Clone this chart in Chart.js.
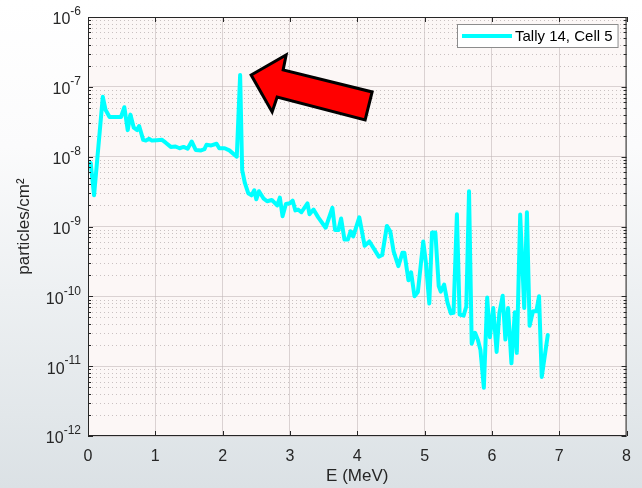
<!DOCTYPE html>
<html>
<head>
<meta charset="utf-8">
<script src="https://cdn.jsdelivr.net/npm/chart.js@4.4.0/dist/chart.umd.min.js"></script>
<style>
  html, body { margin: 0; padding: 0; }
  body {
    width: 642px; height: 488px; overflow: hidden;
    background: linear-gradient(to bottom, #ffffff 0%, #fbfbfc 30%, #edf0f2 60%, #e2e7ea 85%, #dbe1e5 100%);
  }
  #wrap { position: relative; width: 642px; height: 488px; }
</style>
</head>
<body>
<div id="wrap"><canvas id="spectrum"></canvas></div>
<script>
// Data
const energies = [0.04, 0.09, 0.22, 0.26, 0.32, 0.44, 0.49, 0.54, 0.59, 0.63, 0.68, 0.73, 0.76, 0.82, 0.86, 0.91, 0.95, 1.02, 1.10, 1.15,
  1.23, 1.30, 1.36, 1.42, 1.48, 1.54, 1.60, 1.68, 1.73, 1.76, 1.83, 1.91, 1.95, 2.03, 2.10, 2.21, 2.26, 2.29, 2.33, 2.38,
  2.43, 2.47, 2.50, 2.54, 2.61, 2.66, 2.73, 2.81, 2.85, 2.89, 2.94, 3.00, 3.04, 3.08, 3.12, 3.17, 3.26, 3.29, 3.35, 3.42,
  3.53, 3.63, 3.67, 3.72, 3.76, 3.81, 3.86, 3.90, 3.94, 4.03, 4.11, 4.18, 4.32, 4.37, 4.44, 4.49, 4.54, 4.61, 4.67, 4.70,
  4.76, 4.80, 4.85, 4.90, 4.98, 5.02, 5.07, 5.11, 5.16, 5.21, 5.24, 5.29, 5.34, 5.39, 5.43, 5.48, 5.52, 5.58, 5.62, 5.66,
  5.70, 5.75, 5.79, 5.83, 5.88, 5.93, 5.97, 6.02, 6.07, 6.11, 6.16, 6.20, 6.24, 6.29, 6.34, 6.37, 6.42, 6.48, 6.52, 6.56,
  6.61, 6.66, 6.70, 6.74, 6.83];
const flux = [8.1e-9, 2.8e-9, 7.2e-8, 4.7e-8, 3.7e-8, 3.7e-8, 3.7e-8, 5.1e-8, 2.4e-8, 4.0e-8, 2.6e-8, 2.4e-8, 2.75e-8, 1.74e-8, 1.7e-8, 1.8e-8, 1.7e-8, 1.72e-8, 1.74e-8, 1.6e-8,
  1.38e-8, 1.4e-8, 1.32e-8, 1.38e-8, 1.3e-8, 1.65e-8, 1.25e-8, 1.23e-8, 1.28e-8, 1.48e-8, 1.45e-8, 1.53e-8, 1.32e-8, 1.32e-8, 1.23e-8, 1.0e-8, 1.48e-7, 6.4e-9, 4.2e-9, 3.0e-9,
  2.8e-9, 3.3e-9, 2.45e-9, 3.2e-9, 2.5e-9, 2.3e-9, 2.4e-9, 2.0e-9, 2.6e-9, 1.4e-9, 2.1e-9, 2.15e-9, 2.35e-9, 1.7e-9, 1.75e-9, 1.6e-9, 2.15e-9, 1.5e-9, 1.75e-9, 1.35e-9,
  9.6e-10, 1.85e-9, 8.9e-10, 8.9e-10, 1.3e-9, 6.5e-10, 6.5e-10, 8.5e-10, 7.2e-10, 1.35e-9, 5.3e-10, 6.1e-10, 3.7e-10, 3.9e-10, 1.02e-9, 8.5e-10, 4.4e-10, 2.7e-10, 4.2e-10, 4.2e-10,
  1.7e-10, 2.2e-10, 1.0e-10, 1.15e-10, 6.1e-10, 3.0e-10, 7.9e-11, 8.2e-10, 8.2e-10, 1.4e-10, 1.17e-10, 1.47e-10, 8.1e-11, 5.7e-11, 5.8e-11, 1.5e-9, 5.5e-11, 5.3e-11, 7.2e-11, 3.2e-9,
  2.1e-11, 3.0e-11, 2.4e-11, 1.7e-11, 4.9e-12, 9.6e-11, 2.6e-11, 6.8e-11, 1.6e-11, 5.7e-11, 1.02e-10, 2.4e-11, 6.8e-11, 1.1e-11, 5.9e-11, 1.55e-11, 1.48e-9, 6.8e-11, 1.6e-9, 3.8e-11,
  6.1e-11, 6.1e-11, 1.0e-10, 7.0e-12, 2.8e-11];

const xTicks = [0, 1, 2, 3, 4, 5, 6, 7, 8];
const yExponents = [-12, -11, -10, -9, -8, -7, -6];
const seriesLabel = 'Tally 14, Cell 5';
const xTitle = 'E (MeV)';
const yTitle = 'particles/cm\u00b2';

const textColor = '#262626';
const fontFamily = "'Liberation Sans', Arial, sans-serif";

// index of the spike the arrow points at
const peakIndex = flux.indexOf(Math.max(...flux));

const isDecade = v => Math.abs(Math.log10(v) - Math.round(Math.log10(v))) < 1e-6;

const matlabAxes = {
  id: 'matlabAxes',
  beforeDraw(chart) {
    const { ctx, chartArea: { left, top, width, height } } = chart;
    ctx.save();
    ctx.fillStyle = '#fcf7f6';
    ctx.fillRect(left, top, width, height);
    ctx.restore();
  },
  beforeDatasetsDraw(chart) {
    const { ctx, chartArea: { left, right }, scales: { y } } = chart;
    ctx.save();
    ctx.strokeStyle = '#c9c1c1';
    ctx.lineWidth = 1;
    ctx.setLineDash([1, 3]);
    for (let e = yExponents[0]; e < yExponents[yExponents.length - 1]; e++) {
      for (let m = 2; m <= 9; m++) {
        const py = Math.round(y.getPixelForValue(m * Math.pow(10, e))) + 0.5;
        ctx.beginPath();
        ctx.moveTo(left, py);
        ctx.lineTo(right, py);
        ctx.stroke();
      }
    }
    ctx.restore();
  },
  afterDatasetsDraw(chart) {
    const { ctx, chartArea: { left, top, right, bottom }, scales: { x, y } } = chart;
    ctx.save();

    // box
    ctx.strokeStyle = textColor;
    ctx.lineWidth = 1;
    ctx.strokeRect(left + 0.5, top + 0.5, right - left - 1, bottom - top - 1);

    // ticks, pointing inwards
    ctx.beginPath();
    xTicks.forEach(v => {
      const px = Math.round(x.getPixelForValue(v)) + 0.5;
      ctx.moveTo(px, bottom); ctx.lineTo(px, bottom - 5);
      ctx.moveTo(px, top); ctx.lineTo(px, top + 5);
    });
    yExponents.forEach(e => {
      const py = Math.round(y.getPixelForValue(Math.pow(10, e))) + 0.5;
      ctx.moveTo(left, py); ctx.lineTo(left + 5, py);
      ctx.moveTo(right, py); ctx.lineTo(right - 5, py);
      if (e < yExponents[yExponents.length - 1]) {
        for (let m = 2; m <= 9; m++) {
          const pm = Math.round(y.getPixelForValue(m * Math.pow(10, e))) + 0.5;
          ctx.moveTo(left, pm); ctx.lineTo(left + 3, pm);
          ctx.moveTo(right, pm); ctx.lineTo(right - 3, pm);
        }
      }
    });
    ctx.stroke();

    // y tick labels 10^n
    ctx.fillStyle = textColor;
    ctx.textBaseline = 'middle';
    ctx.textAlign = 'right';
    const labelRight = left - 7;
    yExponents.forEach(e => {
      const py = y.getPixelForValue(Math.pow(10, e));
      const expText = '-' + Math.abs(e);
      ctx.font = '12px ' + fontFamily;
      const expW = ctx.measureText(expText).width;
      ctx.fillText(expText, labelRight, py - 5);
      ctx.font = '16px ' + fontFamily;
      ctx.fillText('10', labelRight - expW, py + 3);
    });

    // arrow pointing at the spike
    const tipX = x.getPixelForValue(energies[peakIndex]) + 11;
    const tipY = y.getPixelForValue(flux[peakIndex]);
    const shape = [[0, 0], [35, -20], [32, -5], [121, 17], [114, 45], [26, 22], [21, 37]];
    ctx.beginPath();
    shape.forEach(([dx, dy], i) => {
      if (i === 0) ctx.moveTo(tipX + dx, tipY + dy);
      else ctx.lineTo(tipX + dx, tipY + dy);
    });
    ctx.closePath();
    ctx.fillStyle = '#ff0000';
    ctx.fill();
    ctx.lineJoin = 'miter';
    ctx.lineWidth = 3;
    ctx.strokeStyle = '#000000';
    ctx.stroke();

    // legend box
    const ds = chart.data.datasets[0];
    ctx.font = '15px ' + fontFamily;
    const textW = ctx.measureText(ds.label).width;
    const boxW = 56 + textW + 8;
    const boxH = 24;
    const boxR = right - 8;
    const boxT = top + 7;
    ctx.fillStyle = '#ffffff';
    ctx.fillRect(boxR - boxW, boxT, boxW, boxH);
    ctx.lineWidth = 1;
    ctx.strokeStyle = '#8c8c8c';
    ctx.strokeRect(boxR - boxW + 0.5, boxT + 0.5, boxW - 1, boxH - 1);
    ctx.beginPath();
    ctx.moveTo(boxR - boxW + 5, boxT + boxH / 2);
    ctx.lineTo(boxR - boxW + 55, boxT + boxH / 2);
    ctx.strokeStyle = ds.borderColor;
    ctx.lineWidth = ds.borderWidth;
    ctx.stroke();
    ctx.fillStyle = '#000000';
    ctx.textAlign = 'left';
    ctx.textBaseline = 'middle';
    ctx.fillText(ds.label, boxR - boxW + 58, boxT + boxH / 2 + 1);

    ctx.restore();
  }
};

const config = {
  type: 'line',
  data: {
    datasets: [{
      label: seriesLabel,
      data: energies.map((e, i) => ({ x: e, y: flux[i] })),
      borderColor: '#00ffff',
      borderWidth: 4,
      borderJoinStyle: 'round',
      borderCapStyle: 'round',
      pointRadius: 0,
      tension: 0,
      fill: false
    }]
  },
  options: {
    responsive: true,
    maintainAspectRatio: false,
    animation: false,
    layout: { padding: { left: 0, right: 7, top: 17, bottom: 0 } },
    plugins: {
      legend: { display: false },
      tooltip: { enabled: false }
    },
    scales: {
      x: {
        type: 'linear',
        min: 0,
        max: 8,
        afterBuildTicks: s => { s.ticks = xTicks.map(v => ({ value: v })); },
        afterFit: s => { s.height = 52; },
        grid: { color: 'rgba(190,180,180,0.55)', lineWidth: 1, drawTicks: false },
        border: { display: false },
        ticks: {
          color: textColor,
          font: { family: fontFamily, size: 16 },
          padding: 11,
          maxRotation: 0
        },
        title: {
          display: true,
          text: xTitle,
          color: textColor,
          font: { family: fontFamily, size: 17 },
          padding: { top: 0, bottom: 1 }
        }
      },
      y: {
        type: 'logarithmic',
        min: 1e-12,
        max: 1e-6,
        afterBuildTicks: s => { s.ticks = s.ticks.filter(t => isDecade(t.value)); },
        afterFit: s => { s.width = 88; },
        grid: { color: 'rgba(190,180,180,0.55)', lineWidth: 1, drawTicks: false },
        border: { display: false },
        ticks: { display: false },
        title: {
          display: true,
          text: yTitle,
          color: textColor,
          font: { family: fontFamily, size: 17 },
          padding: { top: 14 }
        }
      }
    }
  },
  plugins: [matlabAxes]
};

const spectrumChart = new Chart(document.getElementById('spectrum'), config);
</script>
</body>
</html>
